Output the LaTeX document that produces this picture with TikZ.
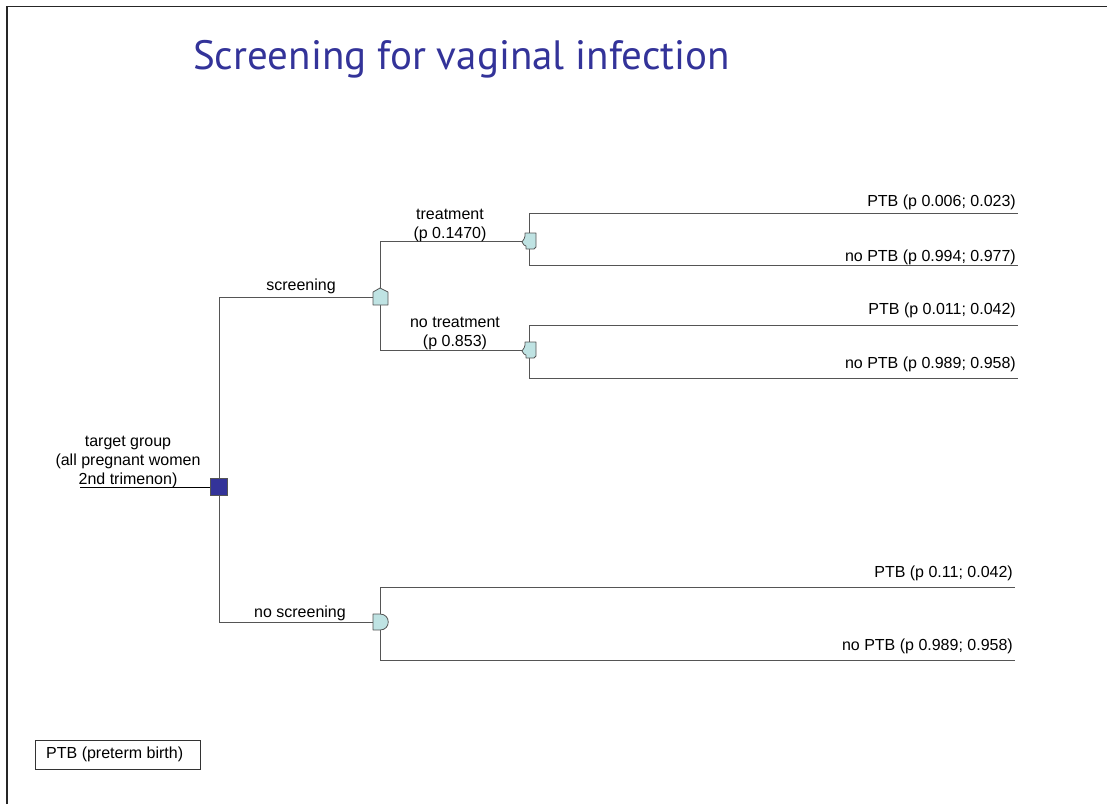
\documentclass[tikz,border=0pt]{standalone}
\usepackage{fontspec}
\setmainfont{Liberation Sans}
\newfontfamily\titlefont{PT Sans}
\definecolor{titleblue}{HTML}{333399}
\definecolor{chancefill}{HTML}{BFE3E3}
\definecolor{linegray}{HTML}{555555}
\begin{document}
\begin{tikzpicture}[x=1pt,y=-1pt,
  conn/.style={draw=linegray, line width=1pt},
  lbl/.style={font=\fontsize{16}{19}\selectfont, inner sep=0pt},
  chance/.style={fill=chancefill, draw=linegray, line width=0.8pt, line join=round},
  pt/.style={inner sep=0pt, minimum size=0pt}
]
\useasboundingbox (0,0) rectangle (1107,804);
% frame
\draw[line width=1.2pt, black!85] (7,804) -- (7,6.5) -- (1107,6.5);
% title
\node[anchor=base west, inner sep=0pt, text=titleblue, font=\titlefont\fontsize{41}{43}\selectfont] (title) at (193,69) {Screening for vaginal infection};

% decision node
\coordinate (start) at (80,487);
\node[draw=linegray, fill=titleblue, minimum width=17pt, minimum height=17pt, inner sep=0pt, line width=0.6pt] (dec) at (219,487) {};

% chance node positions
\node[pt] (cs) at (380,297) {};
\node[pt] (cns) at (380,622) {};
\node[pt] (ct) at (529,241) {};
\node[pt] (cnt) at (529,350) {};

% branch coordinates
\coordinate (decTop) at (219,297);
\coordinate (decBot) at (219,622);
\coordinate (csTop) at (380,241);
\coordinate (csBot) at (380,350);
\coordinate (ctTop) at (529,213);
\coordinate (ctBot) at (529,265);
\coordinate (cntTop) at (529,325);
\coordinate (cntBot) at (529,378);
\coordinate (cnsTop) at (380,587);
\coordinate (cnsBot) at (380,660);
\coordinate (e1) at (1018,213);
\coordinate (e2) at (1018,265);
\coordinate (e3) at (1018,325);
\coordinate (e4) at (1018,378);
\coordinate (e5) at (1015,587);
\coordinate (e6) at (1015,660);

% connectors
\draw[line width=1pt, black] (start) -- (dec.west);
\draw[conn] (dec.north) -- (decTop) -- (cs);
\draw[conn] (dec.south) -- (decBot) -- (cns);
\draw[conn] (cs) -- (csTop) -- (ct);
\draw[conn] (cs) -- (csBot) -- (cnt);
\draw[conn] (ct) -- (ctTop) -- (e1);
\draw[conn] (ct) -- (ctBot) -- (e2);
\draw[conn] (cnt) -- (cntTop) -- (e3);
\draw[conn] (cnt) -- (cntBot) -- (e4);
\draw[conn] (cns) -- (cnsTop) -- (e5);
\draw[conn] (cns) -- (cnsBot) -- (e6);

% chance node shapes
\path[chance] ([shift={(-7,8)}]cs.center) -- ([shift={(-7,-5)}]cs.center) -- ([shift={(0,-9)}]cs.center) -- ([shift={(8,-5)}]cs.center) -- ([shift={(8,8)}]cs.center) -- cycle;
\path[chance] ([shift={(-7,8)}]cns.center) -- ([shift={(-7,-8)}]cns.center) -- ([shift={(0,-8)}]cns.center) .. controls ([shift={(11,-8)}]cns.center) and ([shift={(11,8)}]cns.center) .. ([shift={(0,8)}]cns.center) -- cycle;
\foreach \n in {ct,cnt}{
\path[chance] ([shift={(-4,-8)}]\n.center) -- ([shift={(7,-8)}]\n.center) -- ([shift={(7,6)}]\n.center) -- ([shift={(5,8)}]\n.center) -- ([shift={(-3,8)}]\n.center) -- ([shift={(-3,5)}]\n.center) -- ([shift={(-5,4)}]\n.center) -- ([shift={(-7,1)}]\n.center) -- ([shift={(-5,-2)}]\n.center) -- ([shift={(-4,-5)}]\n.center) -- cycle;
}

% labels
\node[lbl, align=center] (tg) at (128,462) {target group\\(all pregnant women\\2nd trimenon)};
\node[lbl] (lscr) at (301,286) {screening};
\node[lbl] (lnscr) at (300,613) {no screening};
\node[lbl, align=center] (ltr) at (450,225) {treatment\\(p 0.1470)};
\node[lbl, align=center] (lntr) at (455,333) {no treatment\\(p 0.853)};
\node[lbl, anchor=east] (o1) at (1016,202) {PTB (p 0.006; 0.023)};
\node[lbl, anchor=east] (o2) at (1016,257) {no PTB (p 0.994; 0.977)};
\node[lbl, anchor=east] (o3) at (1016,310) {PTB (p 0.011; 0.042)};
\node[lbl, anchor=east] (o4) at (1016,364) {no PTB (p 0.989; 0.958)};
\node[lbl, anchor=east] (o5) at (1013,573) {PTB (p 0.11; 0.042)};
\node[lbl, anchor=east] (o6) at (1013,646) {no PTB (p 0.989; 0.958)};

% legend
\node[draw=black!80, line width=0.8pt, minimum width=165pt, minimum height=29pt, inner sep=0pt] (legend) at (117.5,754.5) {};
\node[lbl, anchor=west] (legtext) at (46,754.5) {PTB (preterm birth)};
\end{tikzpicture}
\end{document}
